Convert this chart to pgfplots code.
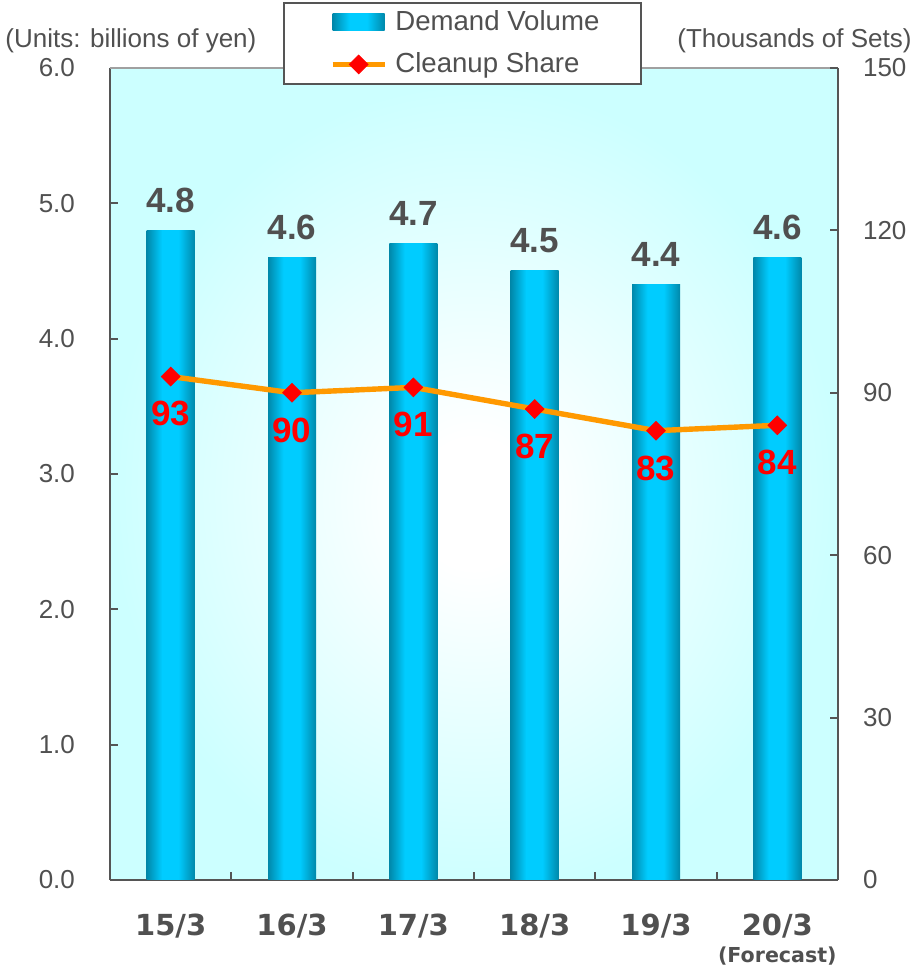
\documentclass[border=0pt]{standalone}
\usepackage{fontspec}
\setmainfont{Liberation Sans}
\newfontfamily\catfont{DejaVu Sans}
\usepackage{pgfplots}
\usepackage{pgfplotstable}
\pgfplotsset{compat=1.18}

\definecolor{txt}{HTML}{505050}
\definecolor{axisline}{HTML}{555555}
\definecolor{topline}{HTML}{A0A0A0}
\definecolor{bgcyan}{HTML}{CCFFFF}
\definecolor{barDark}{HTML}{0088AA}
\definecolor{barLight}{HTML}{00CCFF}
\definecolor{lineOrange}{HTML}{FF9900}
\definecolor{markRed}{HTML}{FF0000}

% cylinder-like shading across each bar
\pgfdeclarehorizontalshading{barshade}{100bp}{color(0bp)=(barDark); color(25bp)=(barDark); color(41bp)=(barLight); color(58bp)=(barLight); color(75bp)=(barDark); color(100bp)=(barDark)}
% plot area background: white centre fading to light cyan
\pgfdeclareradialshading{bgshade}{\pgfpoint{0bp}{-2bp}}{color(0bp)=(white); color(4bp)=(white); color(25bp)=(bgcyan); color(50bp)=(bgcyan)}

\pgfplotsset{
  share legend/.style={legend image code/.code={%
    \path (-4pt,0pt);
    \draw[##1, mark repeat=2, mark phase=2] plot coordinates {(0pt,0pt) (13pt,0pt) (26pt,0pt)};}},
  bar legend/.style={legend image code/.code={%
    \path (-4pt,0pt);
    \path[draw=none, shading=barshade] (0pt,-4.25pt) rectangle (26pt,4.25pt);}},
}

\pgfplotstableread{
idx demand
0 4.8
1 4.6
2 4.7
3 4.5
4 4.4
5 4.6
}\demandtable

\pgfplotstableread{
idx share
0 93
1 90
2 91
3 87
4 83
5 84
}\sharetable

\newcommand\basefont{\fontsize{13}{15.6}\selectfont}
\newcommand\valfont{\bfseries\fontsize{17.5}{20}\selectfont}

\begin{document}
\begin{tikzpicture}[every node/.append style={text=txt}]
\useasboundingbox (-55pt,-46pt) rectangle (402pt,440pt);

% left axis: demand volume bars
\begin{axis}[
  at={(0,0)}, anchor=south west,
  scale only axis, width=364pt, height=406pt,
  xmin=-0.5, xmax=5.5, ymin=0, ymax=6,
  axis x line*=bottom, axis y line*=left,
  axis line style={draw=axisline, line width=1.3pt},
  axis background/.style={shading=bgshade},
  tick align=inside,
  tick style={draw=axisline, line width=1pt},
  major tick length=4pt,
  ytick={0,1,...,6},
  yticklabel style={font=\basefont, xshift=-14pt,
    /pgf/number format/fixed, /pgf/number format/fixed zerofill,
    /pgf/number format/precision=1},
  xtick={0.5,1.5,...,4.5}, xticklabels={},
  extra x ticks={0,1,2,3,4,5},
  extra x tick labels={15/3,16/3,17/3,18/3,19/3,20/3},
  extra x tick style={major tick length=0pt,
    xticklabel style={anchor=base, yshift=-27.5pt,
      font=\catfont\bfseries\fontsize{14.5}{17}\selectfont}},
  /pgf/number format/assume math mode=true,
  clip=false,
]
% one bar per plot so that each bar gets its own shading
\pgfplotsinvokeforeach{0,...,5}{
  \addplot[ybar, bar shift=0pt, bar width=24pt, draw=none, shading=barshade,
    restrict x to domain=#1:#1,
    nodes near coords={\pgfmathprintnumber[assume math mode=true,fixed,fixed zerofill,precision=1]{\pgfplotspointmeta}},
    nodes near coords style={anchor=base, yshift=9pt, font=\valfont, text=txt}]
    table[x=idx, y=demand]{\demandtable};
}
\draw[topline, line width=0.8pt] (rel axis cs:0,1) -- (rel axis cs:1,1);
\end{axis}

% right axis: cleanup share line
\begin{axis}[
  at={(0,0)}, anchor=south west,
  scale only axis, width=364pt, height=406pt,
  xmin=-0.5, xmax=5.5, ymin=0, ymax=150,
  axis x line=none, axis y line*=right,
  axis line style={draw=axisline, line width=1.3pt},
  tick align=inside,
  tick style={draw=axisline, line width=1pt},
  major tick length=4pt,
  ytick={0,30,...,150},
  yticklabel style={font=\basefont, anchor=west, xshift=9pt},
  /pgf/number format/assume math mode=true,
  clip=false,
  legend cell align=left,
  legend style={at={(axis description cs:0.2376,1.0813)}, anchor=north west,
    draw=axisline, line width=1pt, fill=white, font=\fontsize{13.8}{16}\selectfont,
    inner xsep=19pt, inner ysep=2pt, row sep=5.5pt,
    /tikz/every odd column/.append style={column sep=2pt}},
]
\addlegendimage{bar legend}
\addlegendentry{Demand Volume}
\addplot[lineOrange, line width=2.7pt,
  mark=square*, mark size=3.3pt,
  mark options={fill=markRed, draw=markRed, line width=0.4pt, rotate=45},
  nodes near coords,
  nodes near coords style={anchor=base, yshift=-24.7pt, text=markRed, font=\valfont},
  share legend]
  table[x=idx, y=share]{\sharetable};
\addlegendentry{Cleanup Share}

\node[anchor=west, inner sep=0pt, font=\basefont] at (rel axis cs:-0.1442,1.0332) {(Units: billions of yen)};
\node[anchor=east, inner sep=0pt, font=\basefont] at (rel axis cs:1.1016,1.0332) {(Thousands of Sets)};
\node[anchor=base, inner sep=0pt, font=\catfont\bfseries\fontsize{10.3}{12}\selectfont] at ([yshift=-41pt]axis cs:5,0) {(Forecast)};
\end{axis}
\end{tikzpicture}
\end{document}
